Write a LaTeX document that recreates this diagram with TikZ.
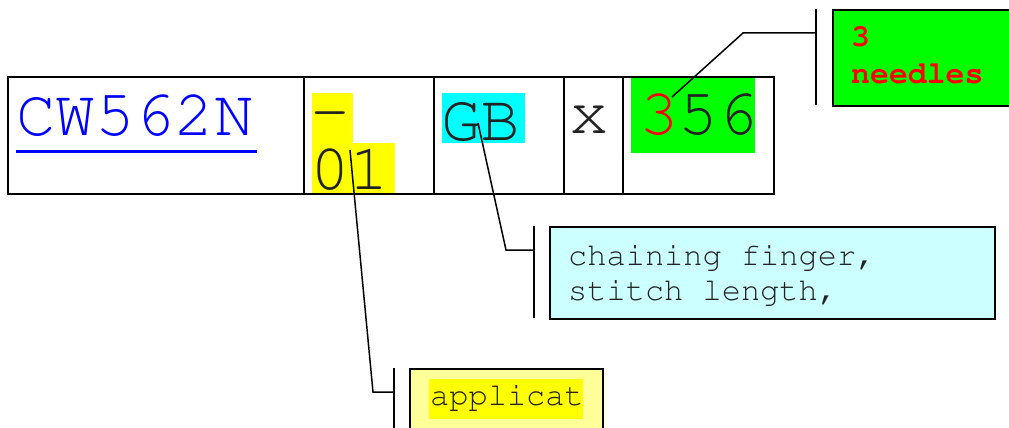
\documentclass[tikz,border=0pt]{standalone}
\usepackage[T1]{fontenc}
\usepackage{courier}
\definecolor{hlyellow}{RGB}{255,255,0}
\definecolor{hlcyan}{RGB}{0,255,255}
\definecolor{hlgreen}{RGB}{0,255,0}
\definecolor{paleyellow}{RGB}{255,255,153}
\definecolor{palecyan}{RGB}{204,255,255}
\definecolor{ink}{RGB}{34,34,34}
\definecolor{linkblue}{RGB}{0,0,255}
\definecolor{redtxt}{RGB}{255,0,0}
\tikzset{
  cellbox/.style={draw=black, line width=2pt, inner sep=0pt},
  bigtxt/.style={inner sep=0pt, anchor=base west, font=\ttfamily\fontsize{66}{66}\selectfont, text=ink},
  smalltxt/.style={inner sep=0pt, anchor=base west, font=\ttfamily\fontsize{32}{32}\selectfont, text=ink},
  boldtxt/.style={inner sep=0pt, anchor=base west, font=\ttfamily\bfseries\fontsize{31.5}{31.5}\selectfont, text=redtxt},
  callbox/.style={draw=black, line width=2pt},
  leader/.style={draw=black, line width=1.5pt},
  bar/.style={draw=black, line width=1.5pt},
}
\begin{document}
\begin{tikzpicture}[x=1pt,y=-1pt]
\useasboundingbox (0,0) rectangle (1009,428);
% highlights in main row
\fill[hlyellow] (312,93) rectangle (353,143);
\fill[hlyellow] (312,143) rectangle (395,193);
\fill[hlcyan] (442,93) rectangle (525,143);
\fill[hlgreen] (631,77) rectangle (755,153);
% cells
\node[cellbox, minimum width=296pt, minimum height=117pt, anchor=north west] (c1) at (7,76) {};
\node[cellbox, minimum width=130pt, minimum height=117pt, anchor=north west] (c2) at (303,76) {};
\node[cellbox, minimum width=130pt, minimum height=117pt, anchor=north west] (c3) at (433,76) {};
\node[cellbox, minimum width=59pt, minimum height=117pt, anchor=north west] (c4) at (563,76) {};
\node[cellbox, minimum width=151pt, minimum height=117pt, anchor=north west] (c5) at (622,76) {};
% texts
\node[bigtxt, text=linkblue] (t1) at (16,135) {CW562N};
\draw[linkblue, line width=3pt] (16,151) -- (257,151);
\node[bigtxt, align=left] (t2) at (310,189) {-\\[-8pt]01};
\node[bigtxt] (t3) at (441,140) {GB};
\node[bigtxt] (t4) at (569,133) {x};
\node[bigtxt] (t5) at (639,134) {\textcolor{redtxt}{3}56};
% callout 1
\node[callbox, fill=hlgreen, minimum width=182pt, minimum height=96pt, anchor=north west] (k1) at (832,9) {};
\draw[bar] (816,9) -- (816,105);
\node[boldtxt] (k1a) at (851,47) {3};
\node[boldtxt] (k1b) at (851,83) {needles};
\coordinate (p1) at (672,97);
\coordinate (q1) at (743,33);
\coordinate (r1) at (816,33);
\draw[leader] (p1) -- (q1) -- (r1);
% callout 2
\node[callbox, fill=palecyan, minimum width=445pt, minimum height=92pt, anchor=north west] (k2) at (549,226) {};
\draw[bar] (534,226) -- (534,318);
\node[smalltxt] (k2a) at (568,265) {chaining finger,};
\node[smalltxt] (k2b) at (568,300) {stitch length,};
\coordinate (p2) at (478,123);
\coordinate (q2) at (506,250);
\coordinate (r2) at (534,250);
\draw[leader] (p2) -- (q2) -- (r2);
% callout 3
\node[callbox, fill=paleyellow, minimum width=193pt, minimum height=70pt, anchor=north west] (k3) at (409,368) {};
\draw[bar] (394,368) -- (394,428);
\fill[hlyellow] (429,379) rectangle (583,419);
\node[smalltxt] (k3a) at (430,405) {applicat};
\coordinate (p3) at (350,150);
\coordinate (q3) at (373,392);
\coordinate (r3) at (394,392);
\draw[leader] (p3) -- (q3) -- (r3);
\end{tikzpicture}
\end{document}
